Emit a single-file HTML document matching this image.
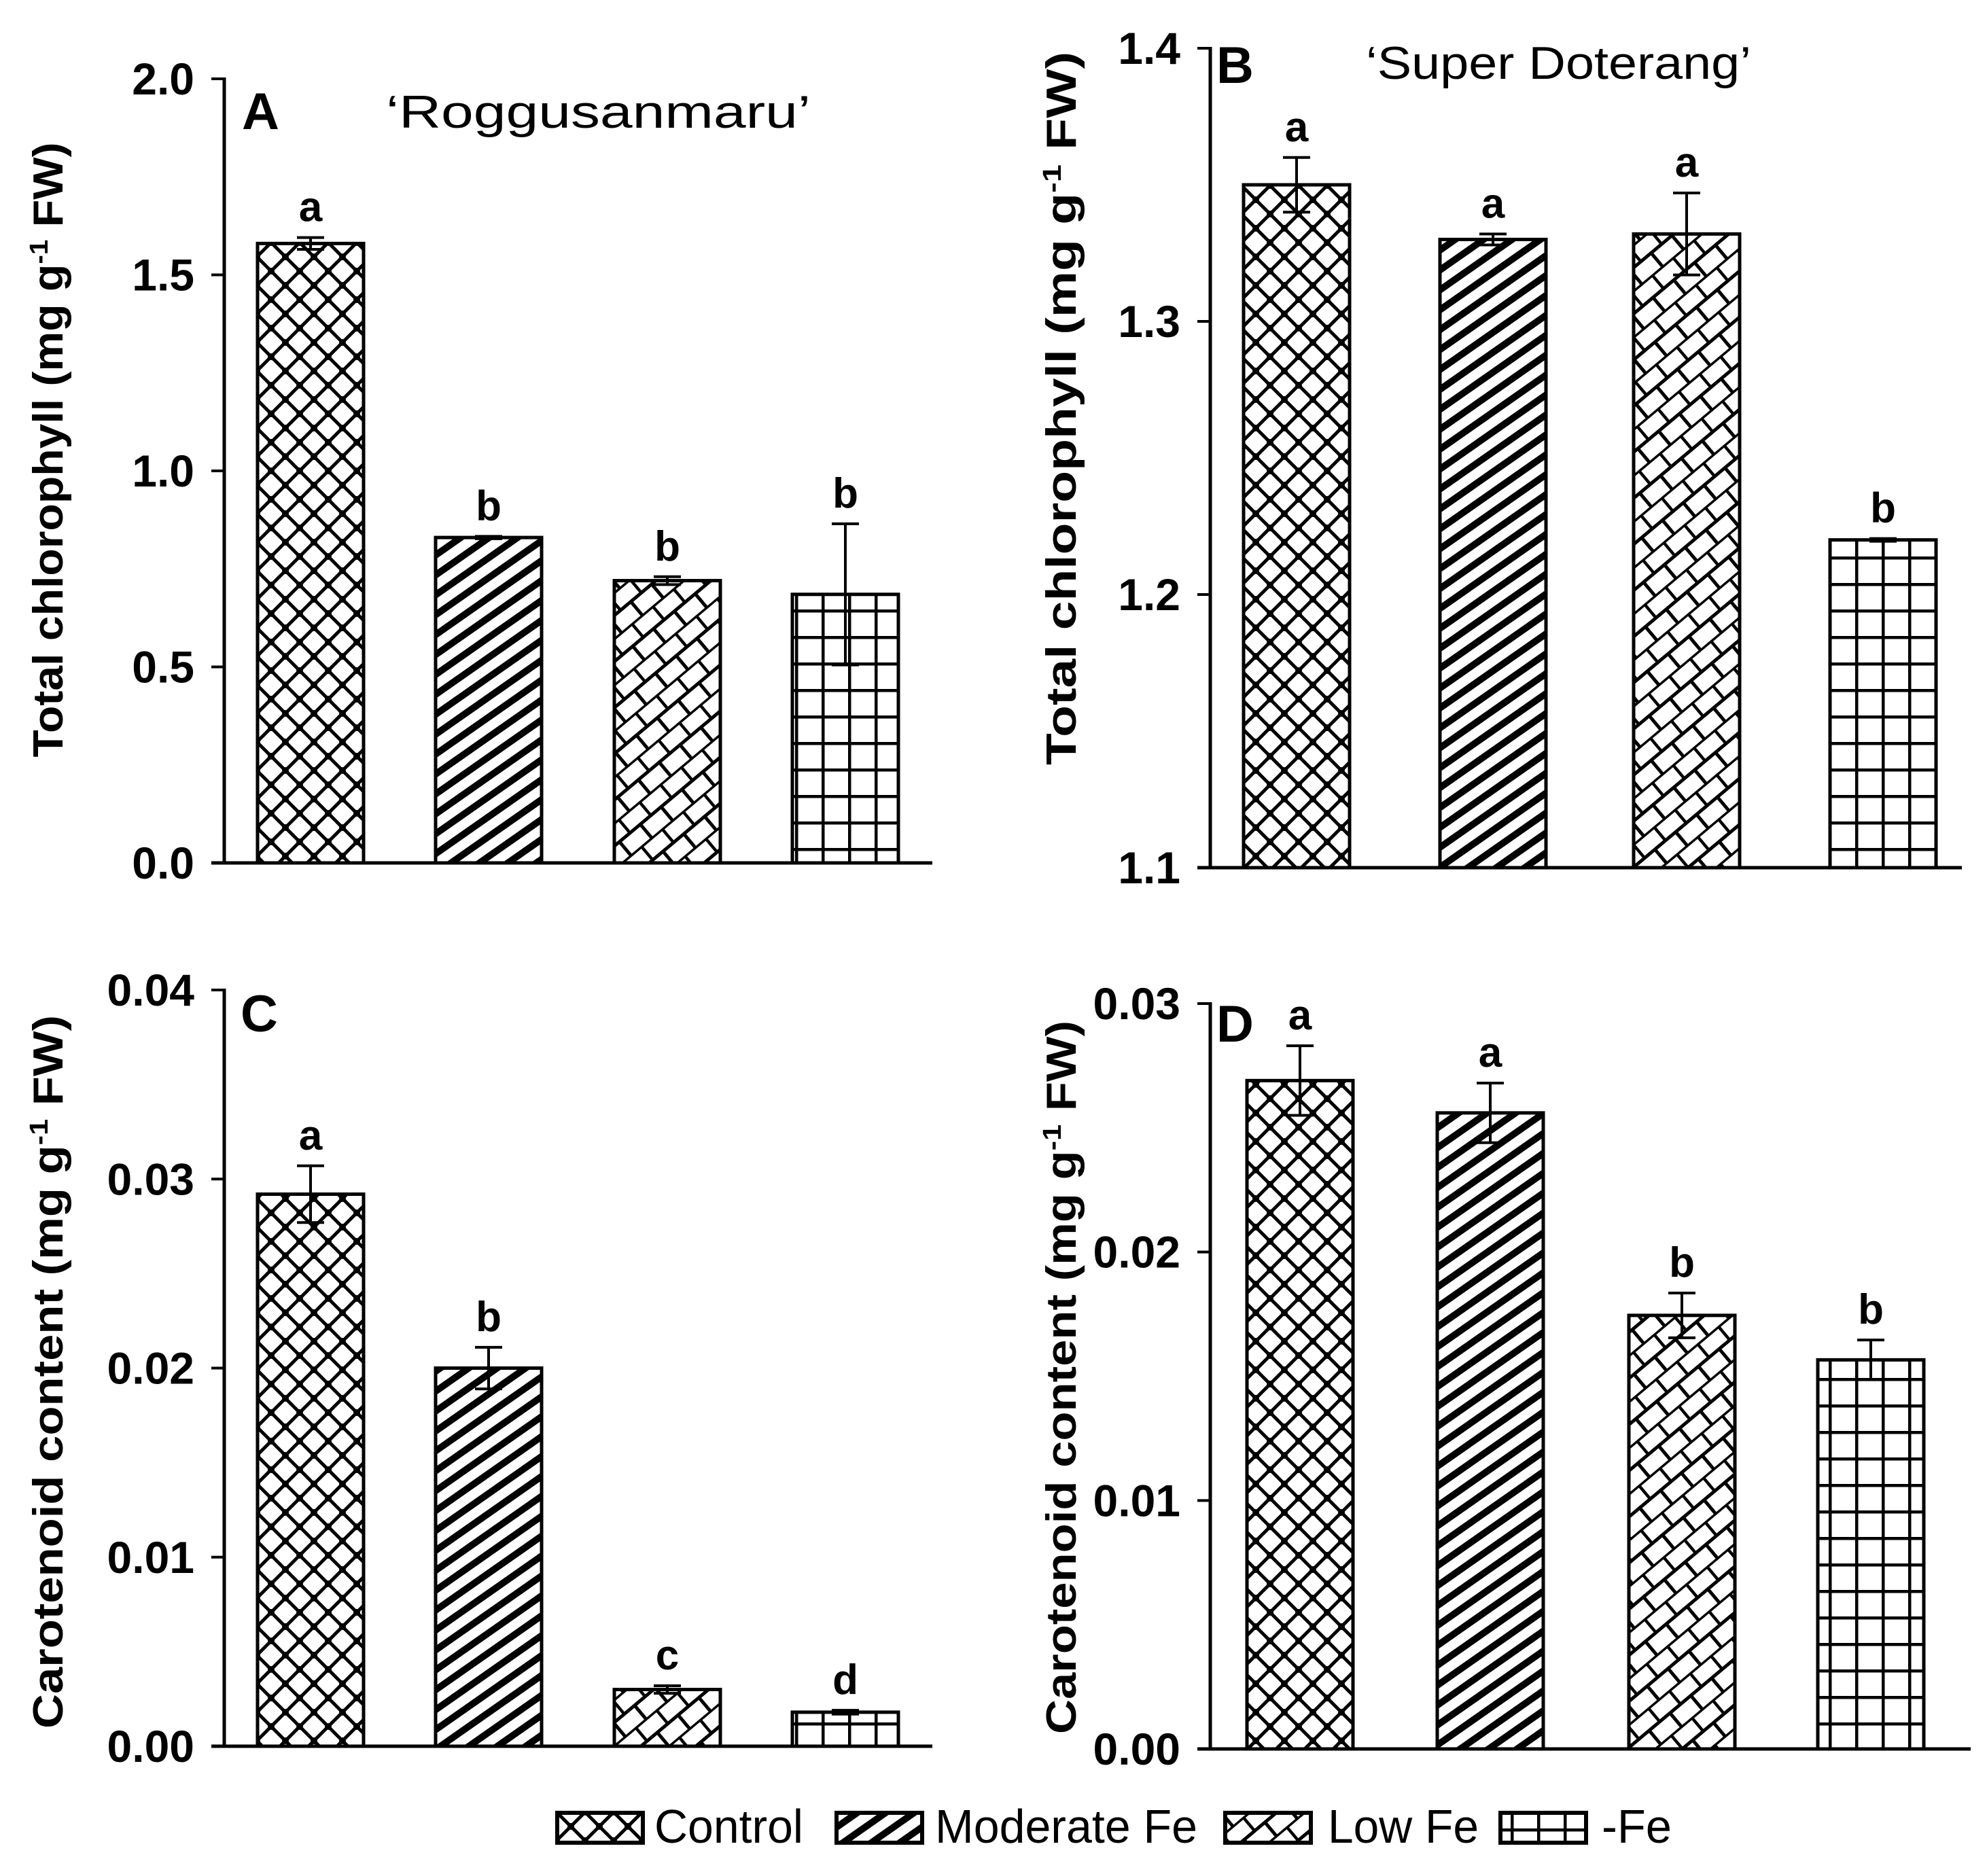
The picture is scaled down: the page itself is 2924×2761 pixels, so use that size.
<!DOCTYPE html>
<html><head><meta charset="utf-8">
<style>
html,body{margin:0;padding:0;background:#fff;}
svg{display:block;}
text{font-family:"Liberation Sans",Arial,sans-serif;fill:#000;}
</style></head>
<body>
<svg id="fig" width="2924" height="2761" viewBox="0 0 2924 2761" xmlns="http://www.w3.org/2000/svg">
<defs>
<pattern id="p-control" patternUnits="userSpaceOnUse" width="42" height="42">
<rect width="42" height="42" fill="#fff"/>
<path d="M0 0 L42 42 M42 0 L0 42" stroke="#000" stroke-width="5"/>
<circle cx="21" cy="21" r="5" fill="#000"/><circle cx="0" cy="0" r="5" fill="#000"/>
<circle cx="42" cy="0" r="5" fill="#000"/><circle cx="0" cy="42" r="5" fill="#000"/><circle cx="42" cy="42" r="5" fill="#000"/>
</pattern>
<pattern id="p-moderate" patternUnits="userSpaceOnUse" width="40" height="24" patternTransform="rotate(-35)">
<rect width="40" height="24" fill="#fff"/>
<rect y="0" width="40" height="10" fill="#000"/>
</pattern>
<pattern id="p-low" patternUnits="userSpaceOnUse" width="40" height="52" patternTransform="rotate(-40)">
<rect width="40" height="52" fill="#fff"/>
<path d="M0 1 H40 M0 27 H40 M2 1 V27 M22 27 V52" stroke="#000" stroke-width="5"/>
</pattern>
<pattern id="p-nofe" patternUnits="userSpaceOnUse" width="39" height="39">
<rect width="39" height="39" fill="#fff"/>
<path d="M0 2 H39 M2 0 V39" stroke="#000" stroke-width="5"/>
</pattern>
</defs>
<g id="root"></g>
</svg>
<script>
// Data
const categories = ["Control", "Moderate Fe", "Low Fe", "-Fe"];
const valuesA = [1.58, 0.83, 0.72, 0.685];
const errorsA = [0.015, 0.003, 0.01, 0.18];
const lettersA = ["a", "b", "b", "b"];
const ticksA = ["0.0", "0.5", "1.0", "1.5", "2.0"];
const valuesB = [1.35, 1.33, 1.332, 1.22];
const errorsB = [0.01, 0.002, 0.015, 0.0005];
const lettersB = ["a", "a", "a", "b"];
const ticksB = ["1.1", "1.2", "1.3", "1.4"];
const valuesC = [0.0292, 0.0200, 0.0030, 0.0018];
const errorsC = [0.0015, 0.0011, 0.0002, 0.0001];
const lettersC = ["a", "b", "c", "d"];
const ticksC = ["0.00", "0.01", "0.02", "0.03", "0.04"];
const valuesD = [0.0269, 0.0256, 0.01745, 0.01566];
const errorsD = [0.0014, 0.0012, 0.0009, 0.0008];
const lettersD = ["a", "a", "b", "b"];
const ticksD = ["0.00", "0.01", "0.02", "0.03"];

const NS = "http://www.w3.org/2000/svg";
const root = document.getElementById("root");
const fills = ["url(#p-control)", "url(#p-moderate)", "url(#p-low)", "url(#p-nofe)"];
const keys = ["control", "moderate-fe", "low-fe", "no-fe"];

function mk(tag, attrs, parent) {
  const e = document.createElementNS(NS, tag);
  for (const k in attrs) e.setAttribute(k, attrs[k]);
  (parent || root).appendChild(e);
  return e;
}

function panel(cfg) {
  const g = mk("g", {});
  
  
  const y = v => cfg.y0 - (v - cfg.min) / (cfg.max - cfg.min) * (cfg.y0 - cfg.y1);
  const ax = mk("line", {x1: cfg.ax, y1: cfg.y1 - 2, x2: cfg.ax, y2: cfg.y0 + 2, stroke: "#000", "stroke-width": 5}, g);
  
  
  const bx = mk("line", {x1: cfg.ax - 19, y1: cfg.y0, x2: cfg.xend, y2: cfg.y0, stroke: "#000", "stroke-width": 5}, g);
  
  
  cfg.ticks.forEach((t, i) => {
    const v = cfg.min + i * (cfg.max - cfg.min) / (cfg.ticks.length - 1);
    const ty = y(v);
    const tk = mk("line", {x1: cfg.ax - 19, y1: ty, x2: cfg.ax, y2: ty, stroke: "#000", "stroke-width": 4}, g);
    
    
    const tl = mk("text", {x: cfg.ax - 44, y: ty + 23, "text-anchor": "end", "font-size": 66, "font-weight": "bold"}, g);
    tl.textContent = t;
    
    
  });
  const bw = 156;
  cfg.vals.forEach((v, i) => {
    const cx = cfg.cx[i];
    const top = y(v);
    const r = mk("rect", {x: cx - bw / 2, y: top, width: bw, height: cfg.y0 - top, fill: fills[i], stroke: "#000", "stroke-width": 5}, g);
    
    
    const eh = y(v + cfg.errs[i]), el = y(v - cfg.errs[i]);
    const e = mk("path", {d: `M${cx} ${eh} V${el} M${cx - 20} ${eh} H${cx + 20} M${cx - 20} ${el} H${cx + 20}`, stroke: "#000", "stroke-width": 4, fill: "none"}, g);
    
    
    const lt = mk("text", {x: cx, y: Math.min(eh, top) - 24, "text-anchor": "middle", "font-size": 62, "font-weight": "bold"}, g);
    lt.textContent = cfg.letters[i];
    
    
  });
  const yt = mk("text", {x: 0, y: 0, "text-anchor": "middle", "font-size": 62, "font-weight": "bold",
    transform: `translate(${cfg.tx},${cfg.tyc}) rotate(-90)`, textLength: cfg.tlen, lengthAdjust: "spacingAndGlyphs"}, g);
  yt.innerHTML = cfg.title + ' (mg g<tspan dy="-22" font-size="38">-1</tspan><tspan dy="22"> FW)</tspan>';
  
  
  const pl = mk("text", {x: cfg.lx, y: cfg.ly, "font-size": 76, "font-weight": "bold"}, g);
  pl.textContent = cfg.id.toUpperCase();
  
  
  if (cfg.cultivar) {
    const cv = mk("text", {x: cfg.cvx, y: cfg.cvy, "font-size": 68, textLength: cfg.cvlen, lengthAdjust: "spacingAndGlyphs"}, g);
    cv.textContent = cfg.cultivar;
    
    
  }
}

const cxLeft = [457, 719, 982, 1244];
panel({id: "a", ax: 330, y0: 1270, y1: 116, min: 0, max: 2, xend: 1372, ticks: ticksA, vals: valuesA, errs: errorsA, letters: lettersA,
  cx: cxLeft, tx: 92, tyc: 662, tlen: 905, title: "Total chlorophyll", lx: 356, ly: 190, cultivar: "\u2018Roggusanmaru\u2019", cvx: 568, cvy: 188, cvlen: 625});
panel({id: "b", ax: 1781, y0: 1277, y1: 71, min: 1.1, max: 1.4, xend: 2887, ticks: ticksB, vals: valuesB, errs: errorsB, letters: lettersB,
  cx: [1908, 2197, 2482, 2771], tx: 1583, tyc: 601, tlen: 1050, title: "Total chlorophyll", lx: 1790, ly: 122, cultivar: "\u2018Super Doterang\u2019", cvx: 2010, cvy: 116, cvlen: 567});
panel({id: "c", ax: 330, y0: 2570, y1: 1457, min: 0, max: 0.04, xend: 1372, ticks: ticksC, vals: valuesC, errs: errorsC, letters: lettersC,
  cx: cxLeft, tx: 92, tyc: 2019, tlen: 1050, title: "Carotenoid content", lx: 354, ly: 1518});
panel({id: "d", ax: 1781, y0: 2574, y1: 1477, min: 0, max: 0.03, xend: 2900, ticks: ticksD, vals: valuesD, errs: errorsD, letters: lettersD,
  cx: [1913, 2193, 2475, 2753], tx: 1583, tyc: 2027, tlen: 1050, title: "Carotenoid content", lx: 1790, ly: 1533});

// Legend
const lg = mk("g", {});


const legBox = [820, 1231, 1803, 2208];
const legText = [[963, 219], [1376, 386], [1954, 222], [2357, 103]];
categories.forEach((c, i) => {
  const b = mk("rect", {x: legBox[i], y: 2668, width: 126, height: 44, fill: fills[i], stroke: "#000", "stroke-width": 6}, lg);
  
  
  const t = mk("text", {x: legText[i][0], y: 2712, "font-size": 70, textLength: legText[i][1], lengthAdjust: "spacingAndGlyphs"}, lg);
  t.textContent = c;
  
  
});
</script>
</body></html>
